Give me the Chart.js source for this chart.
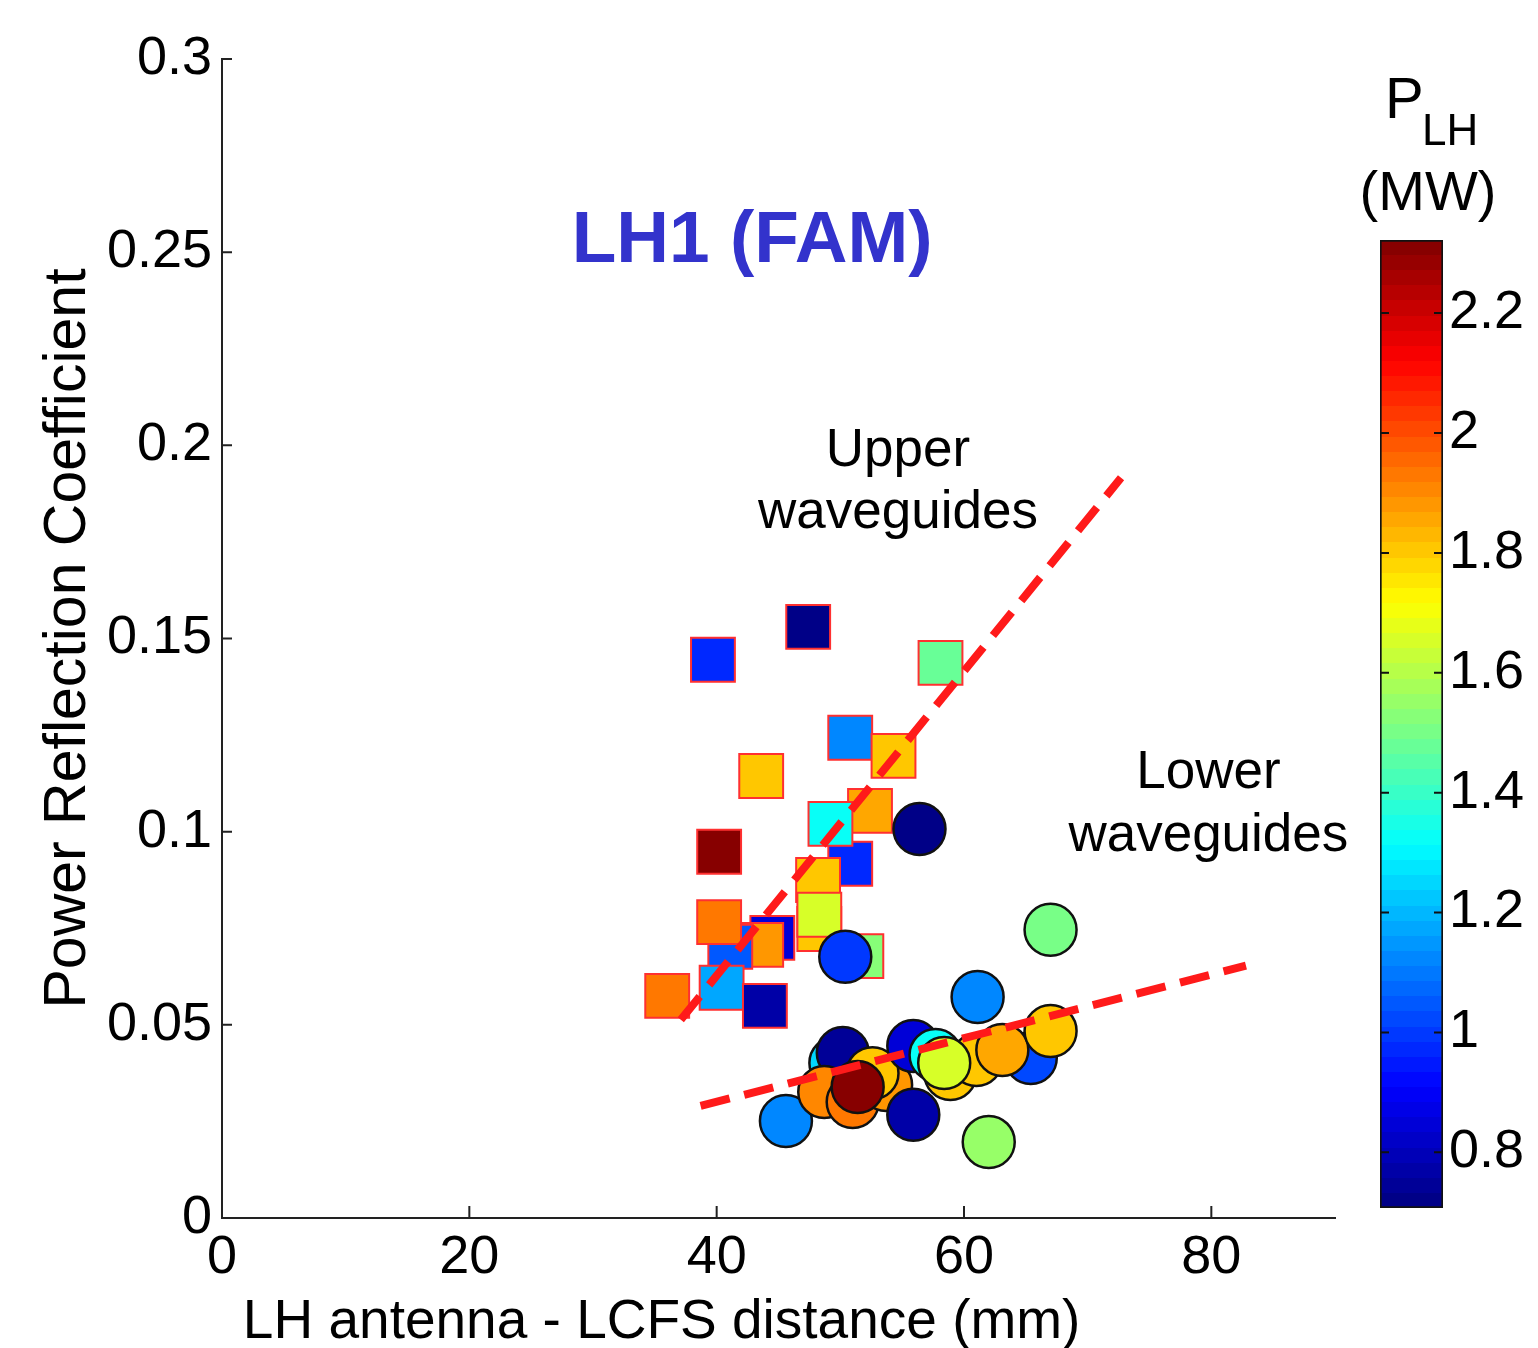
<!DOCTYPE html>
<html>
  <head>
    <title>LH1 (FAM) reflection coefficient</title>
    <script src="https://cdn.jsdelivr.net/npm/chart.js"></script>
    <style>
      html, body { margin: 0; padding: 0; background: #fff; }
      #wrap { position: relative; width: 1538px; height: 1348px; overflow: hidden; }
      #mainChart { position: absolute; left: 0; top: 0; }
      #cbarChart { position: absolute; left: 1340px; top: 0; }
    </style>
  </head>
  <body>
    <div id="wrap">
      <canvas id="mainChart" width="1538" height="1348"></canvas>
      <canvas id="cbarChart" width="198" height="1348"></canvas>
    </div>
    <script>
      // upper waveguides (squares): distance (mm), reflection coeff, P_LH (MW)
      const sqX = [50.8, 52.4, 49.2, 48.2, 48.3, 48.3, 51.7, 39.7, 47.4, 58.1, 50.8, 54.3, 43.6, 40.2, 44.5, 43.6, 41.1, 40.2, 40.4, 43.9, 36.0];
      const sqY = [0.0917, 0.1054, 0.1020, 0.0875, 0.0748, 0.0785, 0.0678, 0.1445, 0.1530, 0.1437, 0.1243, 0.1196, 0.1144, 0.0948, 0.0725, 0.0707, 0.0702, 0.0766, 0.0596, 0.0549, 0.0575];
      const sqP = [0.98, 1.86, 1.33, 1.80, 1.80, 1.66, 1.52, 0.98, 0.73, 1.48, 1.13, 1.80, 1.80, 2.32, 0.84, 1.88, 1.05, 1.93, 1.17, 0.78, 1.93];

      // lower waveguides (circles)
      const ciX = [49.6, 50.2, 45.6, 48.7, 51.0, 53.7, 52.6, 51.4, 55.9, 55.9, 57.7, 58.9, 65.4, 61.0, 58.4, 63.1, 67.0, 61.1, 62.0, 56.4, 50.4, 67.0];
      const ciY = [0.0401, 0.0427, 0.0251, 0.0326, 0.0300, 0.0344, 0.0375, 0.0339, 0.0267, 0.0445, 0.0422, 0.0373, 0.0414, 0.0409, 0.0401, 0.0435, 0.0484, 0.0572, 0.0197, 0.1007, 0.0676, 0.0746];
      const ciP = [1.25, 0.75, 1.12, 1.90, 1.92, 1.87, 1.80, 2.32, 0.78, 0.85, 1.33, 1.80, 1.03, 1.80, 1.66, 1.86, 1.80, 1.12, 1.55, 0.71, 0.99, 1.50];

      // dashed trend lines
      const upperFitX = [37.1, 72.7];
      const upperFitY = [0.0513, 0.1916];
      const lowerFitX = [38.7, 82.8];
      const lowerFitY = [0.0290, 0.0653];

      const xTicks = [0, 20, 40, 60, 80];
      const yTicks = [0, 0.05, 0.1, 0.15, 0.2, 0.25, 0.3];
      const cbTicks = [0.8, 1, 1.2, 1.4, 1.6, 1.8, 2, 2.2];
      const cbMin = 0.707;
      const cbMax = 2.322;

      const FONT = "'Liberation Sans', Arial, Helvetica, sans-serif";

      // MATLAB jet, 64 levels
      function jetAt(t) {
        const c = (v) => Math.round(255 * Math.max(0, Math.min(1, v)));
        return "rgb(" + c(Math.min(4 * t - 1.5, -4 * t + 4.5)) + "," +
          c(Math.min(4 * t - 0.5, -4 * t + 3.5)) + "," +
          c(Math.min(4 * t + 0.5, -4 * t + 2.5)) + ")";
      }
      function jetColor(p) {
        let i = Math.floor(((p - cbMin) / (cbMax - cbMin)) * 64);
        i = Math.max(0, Math.min(63, i));
        return jetAt((i + 0.5) / 64);
      }

      const pts = (xs, ys) => xs.map((x, i) => ({ x: x, y: ys[i] }));

      const labels = [
        { text: "LH1 (FAM)", x: 42.87, y: 0.2475, font: "bold 73px " + FONT, color: "#3333cc" },
        { text: "Upper", x: 54.66, y: 0.1947, font: "53px " + FONT, color: "#000" },
        { text: "waveguides", x: 54.66, y: 0.1787, font: "53px " + FONT, color: "#000" },
        { text: "Lower", x: 79.76, y: 0.1113, font: "53px " + FONT, color: "#000" },
        { text: "waveguides", x: 79.76, y: 0.095, font: "53px " + FONT, color: "#000" },
      ];

      const matlabAxes = {
        id: "matlabAxes",
        afterDraw(chart) {
          const { ctx, chartArea } = chart;
          const xs = chart.scales.x;
          const ys = chart.scales.y;
          ctx.save();
          ctx.strokeStyle = "#222";
          ctx.lineWidth = 2;
          // inward ticks
          ctx.beginPath();
          xTicks.forEach((v) => {
            const px = xs.getPixelForValue(v);
            ctx.moveTo(px, chartArea.bottom);
            ctx.lineTo(px, chartArea.bottom - 12);
          });
          yTicks.forEach((v) => {
            const py = ys.getPixelForValue(v);
            ctx.moveTo(chartArea.left, py);
            ctx.lineTo(chartArea.left + 10, py);
          });
          ctx.stroke();
          // text labels
          ctx.textAlign = "center";
          ctx.textBaseline = "alphabetic";
          labels.forEach((l) => {
            ctx.font = l.font;
            ctx.fillStyle = l.color;
            ctx.fillText(l.text, xs.getPixelForValue(l.x), ys.getPixelForValue(l.y));
          });
          // x axis title
          ctx.font = "55px " + FONT;
          ctx.fillStyle = "#000";
          ctx.fillText("LH antenna - LCFS distance (mm)", xs.getPixelForValue(35.55), xs.bottom - 10);
          ctx.restore();
        },
      };

      new Chart(document.getElementById("mainChart"), {
        type: "scatter",
        data: {
          datasets: [
            {
              type: "line",
              data: pts(upperFitX, upperFitY),
              borderColor: "#ff1a1a",
              borderWidth: 8,
              borderDash: [30, 15],
              pointRadius: 0,
              order: 0,
            },
            {
              type: "line",
              data: pts(lowerFitX, lowerFitY),
              borderColor: "#ff1a1a",
              borderWidth: 8,
              borderDash: [30, 15],
              pointRadius: 0,
              order: 0,
            },
            {
              data: pts(ciX, ciY),
              pointStyle: "circle",
              pointRadius: 26,
              backgroundColor: ciP.map(jetColor),
              borderColor: "#111",
              borderWidth: 2.5,
              order: 1,
            },
            {
              data: pts(sqX, sqY),
              pointStyle: "rect",
              pointRadius: 31,
              backgroundColor: sqP.map(jetColor),
              borderColor: "#ff3030",
              borderWidth: 2,
              order: 2,
            },
          ],
        },
        options: {
          responsive: false,
          animation: false,
          events: [],
          layout: { padding: { left: 0, top: 59, right: 203, bottom: 0 } },
          plugins: { legend: { display: false }, tooltip: { enabled: false } },
          scales: {
            x: {
              type: "linear",
              min: 0,
              max: 90,
              afterBuildTicks: (s) => { s.ticks = xTicks.map((v) => ({ value: v })); },
              afterFit: (s) => { s.height = 130; },
              grid: { display: false, drawTicks: false },
              border: { display: true, color: "#222", width: 2 },
              ticks: {
                color: "#000",
                padding: 8,
                maxRotation: 0,
                font: { family: FONT, size: 54 },
                callback: (v) => String(+v.toFixed(3)),
              },
            },
            y: {
              type: "linear",
              min: 0,
              max: 0.3,
              afterBuildTicks: (s) => { s.ticks = yTicks.map((v) => ({ value: v })); },
              afterFit: (s) => { s.width = 222; },
              grid: { display: false, drawTicks: false },
              border: { display: true, color: "#222", width: 2 },
              ticks: {
                color: "#000",
                padding: 10,
                font: { family: FONT, size: 54 },
                callback: (v) => String(+v.toFixed(3)),
              },
              title: {
                display: true,
                text: "Power Reflection Coefficient",
                color: "#000",
                font: { family: FONT, size: 59, lineHeight: 1.2 },
                padding: { top: 33, bottom: 0 },
              },
            },
          },
        },
        plugins: [matlabAxes],
      });

      // colour bar
      const cbarDecor = {
        id: "cbarDecor",
        afterDraw(chart) {
          const { ctx, chartArea } = chart;
          const ys = chart.scales.y;
          ctx.save();
          ctx.strokeStyle = "#111";
          ctx.lineWidth = 2;
          ctx.beginPath();
          cbTicks.forEach((v) => {
            const py = ys.getPixelForValue(v);
            ctx.moveTo(chartArea.left, py);
            ctx.lineTo(chartArea.left + 9, py);
            ctx.moveTo(chartArea.right, py);
            ctx.lineTo(chartArea.right - 9, py);
          });
          ctx.stroke();
          ctx.fillStyle = "#000";
          ctx.textBaseline = "alphabetic";
          ctx.textAlign = "left";
          ctx.font = "58px " + FONT;
          ctx.fillText("P", 45, 118);
          ctx.font = "44px " + FONT;
          ctx.fillText("LH", 82, 145);
          ctx.textAlign = "center";
          ctx.font = "56px " + FONT;
          ctx.fillText("(MW)", 88, 210);
          ctx.restore();
        },
      };

      new Chart(document.getElementById("cbarChart"), {
        type: "bar",
        data: {
          labels: [""],
          datasets: [
            {
              data: [[cbMin, cbMax]],
              barPercentage: 1,
              categoryPercentage: 1,
              borderColor: "#111",
              borderWidth: 2,
              borderSkipped: false,
              backgroundColor: (c) => {
                const area = c.chart.chartArea;
                if (!area) return "#888";
                const g = c.chart.ctx.createLinearGradient(0, area.bottom, 0, area.top);
                for (let i = 0; i < 64; i++) {
                  const col = jetAt((i + 0.5) / 64);
                  g.addColorStop(i / 64, col);
                  g.addColorStop((i + 1) / 64, col);
                }
                return g;
              },
            },
          ],
        },
        options: {
          responsive: false,
          animation: false,
          events: [],
          layout: { padding: { left: 40, top: 240, right: 0, bottom: 140 } },
          plugins: { legend: { display: false }, tooltip: { enabled: false } },
          scales: {
            x: { display: false },
            y: {
              position: "right",
              min: cbMin,
              max: cbMax,
              afterBuildTicks: (s) => { s.ticks = cbTicks.map((v) => ({ value: v })); },
              afterFit: (s) => { s.width = 95; },
              grid: { display: false, drawTicks: false },
              border: { display: false },
              ticks: {
                color: "#000",
                padding: 6,
                font: { family: FONT, size: 54 },
                callback: (v) => String(+v.toFixed(2)),
              },
            },
          },
        },
        plugins: [cbarDecor],
      });
    </script>
  </body>
</html>
